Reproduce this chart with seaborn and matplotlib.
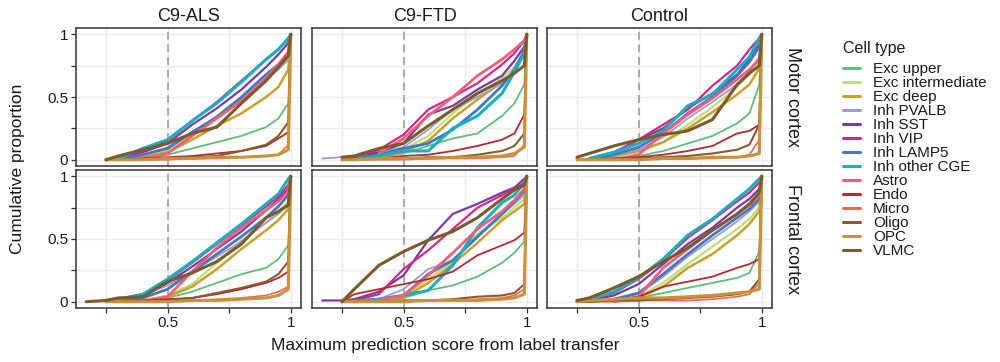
import numpy as np
import pandas as pd
import matplotlib
matplotlib.use("Agg")
import matplotlib.pyplot as plt
import seaborn as sns
from matplotlib.lines import Line2D

nan = np.nan

cell_types = ["Exc upper", "Exc intermediate", "Exc deep", "Inh PVALB", "Inh SST",
              "Inh VIP", "Inh LAMP5", "Inh other CGE", "Astro", "Endo", "Micro",
              "Oligo", "OPC", "VLMC"]
conditions = ["C9-ALS", "C9-FTD", "Control"]
regions = ["Motor cortex", "Frontal cortex"]
score_grid = [0.17, 0.25, 0.3, 0.4, 0.5, 0.6, 0.7, 0.8, 0.9, 0.95, 0.99, 1.0]

als_motor = {
    "Exc upper":        [nan, nan, nan, 0.01, 0.04, 0.09, 0.14, 0.19, 0.26, 0.33, 0.45, 1],
    "Exc intermediate": [nan, nan, 0.0, 0.02, 0.07, 0.20, 0.35, 0.50, 0.64, 0.72, 0.80, 1],
    "Exc deep":         [nan, nan, 0.0, 0.02, 0.06, 0.16, 0.27, 0.37, 0.50, 0.58, 0.72, 1],
    "Inh PVALB":        [nan, nan, 0.0, 0.04, 0.10, 0.22, 0.34, 0.48, 0.64, 0.72, 0.80, 1],
    "Inh SST":          [nan, nan, 0.01, 0.06, 0.13, 0.28, 0.41, 0.56, 0.74, 0.84, 0.93, 1],
    "Inh VIP":          [nan, nan, 0.01, 0.07, 0.15, 0.31, 0.46, 0.63, 0.80, 0.88, 0.96, 1],
    "Inh LAMP5":        [nan, nan, 0.0, 0.04, 0.09, 0.22, 0.34, 0.50, 0.68, 0.76, 0.84, 1],
    "Inh other CGE":    [nan, 0.0, 0.01, 0.09, 0.16, 0.31, 0.45, 0.62, 0.80, 0.88, 0.97, 1],
    "Astro":            [nan, nan, nan, 0.01, 0.05, 0.19, 0.33, 0.47, 0.65, 0.76, 0.86, 1],
    "Endo":             [nan, nan, 0.0, 0.01, 0.02, 0.03, 0.05, 0.07, 0.11, 0.17, 0.22, 1],
    "Micro":            [nan, nan, nan, 0.0, 0.0, 0.01, 0.01, 0.02, 0.03, 0.04, 0.12, 1],
    "Oligo":            [nan, nan, nan, 0.0, 0.01, 0.02, 0.03, 0.07, 0.12, 0.19, 0.30, 1],
    "OPC":              [nan, 0.0, 0.0, 0.0, 0.01, 0.01, 0.02, 0.02, 0.03, 0.04, 0.08, 1],
    "VLMC":             [nan, 0.0, 0.03, 0.08, 0.13, 0.21, 0.26, 0.45, 0.63, 0.74, 0.83, 1],
}

ftd_motor = {
    "Exc upper":        [nan, nan, 0.0, 0.02, 0.05, 0.11, 0.17, 0.21, 0.35, 0.45, 0.60, 1],
    "Exc intermediate": [nan, nan, 0.0, 0.03, 0.08, 0.19, 0.37, 0.52, 0.65, 0.74, 0.85, 1],
    "Exc deep":         [nan, nan, 0.0, 0.02, 0.06, 0.15, 0.33, 0.48, 0.62, 0.70, 0.85, 1],
    "Inh PVALB":        [0.01, 0.02, 0.03, 0.06, 0.10, 0.24, 0.40, 0.50, 0.61, 0.70, 0.85, 1],
    "Inh SST":          [nan, 0.0, 0.01, 0.06, 0.13, 0.36, 0.43, 0.56, 0.67, 0.79, 0.90, 1],
    "Inh VIP":          [nan, 0.0, 0.02, 0.08, 0.20, 0.40, 0.50, 0.61, 0.76, 0.85, 0.95, 1],
    "Inh LAMP5":        [nan, nan, 0.01, 0.04, 0.09, 0.13, 0.24, 0.40, 0.59, 0.72, 0.87, 1],
    "Inh other CGE":    [nan, nan, 0.0, 0.03, 0.07, 0.07, 0.25, 0.35, 0.53, 0.70, 0.85, 1],
    "Astro":            [nan, nan, nan, 0.05, 0.17, 0.35, 0.50, 0.67, 0.80, 0.88, 0.95, 1],
    "Endo":             [nan, nan, 0.0, 0.01, 0.03, 0.04, 0.07, 0.11, 0.16, 0.21, 0.36, 1],
    "Micro":            [nan, nan, 0.0, 0.0, 0.0, 0.01, 0.01, 0.01, 0.02, 0.03, 0.12, 1],
    "Oligo":            [nan, 0.0, 0.0, 0.01, 0.01, 0.02, 0.02, 0.04, 0.07, 0.11, 0.21, 1],
    "OPC":              [nan, 0.0, 0.0, 0.01, 0.01, 0.01, 0.02, 0.02, 0.03, 0.05, 0.10, 1],
    "VLMC":             [nan, 0.02, 0.03, 0.09, 0.13, 0.27, 0.40, 0.53, 0.63, 0.69, 0.75, 1],
}

ctrl_motor = {
    "Exc upper":        [nan, nan, 0.0, 0.01, 0.03, 0.07, 0.13, 0.19, 0.29, 0.37, 0.60, 1],
    "Exc intermediate": [nan, nan, 0.0, 0.02, 0.06, 0.14, 0.28, 0.42, 0.58, 0.68, 0.78, 1],
    "Exc deep":         [nan, nan, 0.0, 0.03, 0.07, 0.14, 0.25, 0.38, 0.52, 0.60, 0.73, 1],
    "Inh PVALB":        [nan, nan, 0.0, 0.03, 0.08, 0.18, 0.33, 0.46, 0.60, 0.70, 0.82, 1],
    "Inh SST":          [nan, nan, 0.0, 0.05, 0.16, 0.25, 0.41, 0.53, 0.68, 0.80, 0.92, 1],
    "Inh VIP":          [nan, nan, 0.01, 0.06, 0.16, 0.28, 0.40, 0.59, 0.75, 0.88, 0.97, 1],
    "Inh LAMP5":        [nan, nan, 0.0, 0.04, 0.10, 0.21, 0.37, 0.50, 0.67, 0.78, 0.90, 1],
    "Inh other CGE":    [nan, nan, 0.01, 0.06, 0.13, 0.23, 0.43, 0.52, 0.72, 0.82, 0.97, 1],
    "Astro":            [nan, nan, nan, 0.0, 0.04, 0.21, 0.36, 0.49, 0.64, 0.72, 0.80, 1],
    "Endo":             [nan, nan, 0.0, 0.01, 0.02, 0.04, 0.07, 0.11, 0.21, 0.23, 0.28, 1],
    "Micro":            [nan, 0.0, 0.0, 0.0, 0.0, 0.01, 0.01, 0.01, 0.02, 0.04, 0.16, 1],
    "Oligo":            [nan, 0.0, 0.0, 0.01, 0.01, 0.02, 0.03, 0.05, 0.08, 0.12, 0.28, 1],
    "OPC":              [nan, 0.0, 0.0, 0.0, 0.0, 0.01, 0.01, 0.02, 0.02, 0.03, 0.05, 1],
    "VLMC":             [nan, 0.02, 0.05, 0.11, 0.16, 0.20, 0.23, 0.32, 0.60, 0.69, 0.75, 1],
}

als_frontal = {
    "Exc upper":        [nan, nan, nan, 0.01, 0.03, 0.08, 0.15, 0.22, 0.27, 0.34, 0.45, 1],
    "Exc intermediate": [nan, nan, nan, 0.01, 0.05, 0.14, 0.31, 0.49, 0.63, 0.72, 0.80, 1],
    "Exc deep":         [nan, nan, nan, 0.01, 0.04, 0.12, 0.26, 0.42, 0.57, 0.65, 0.74, 1],
    "Inh PVALB":        [nan, nan, 0.0, 0.05, 0.13, 0.24, 0.36, 0.48, 0.63, 0.70, 0.78, 1],
    "Inh SST":          [nan, 0.0, 0.01, 0.05, 0.15, 0.28, 0.42, 0.56, 0.73, 0.82, 0.90, 1],
    "Inh VIP":          [nan, 0.0, 0.02, 0.06, 0.17, 0.31, 0.46, 0.61, 0.76, 0.84, 0.93, 1],
    "Inh LAMP5":        [nan, nan, 0.0, 0.03, 0.10, 0.24, 0.38, 0.52, 0.67, 0.76, 0.85, 1],
    "Inh other CGE":    [nan, 0.01, 0.02, 0.06, 0.18, 0.32, 0.47, 0.62, 0.78, 0.86, 0.98, 1],
    "Astro":            [nan, nan, nan, 0.0, 0.04, 0.24, 0.43, 0.59, 0.73, 0.80, 0.88, 1],
    "Endo":             [nan, nan, 0.0, 0.01, 0.02, 0.03, 0.06, 0.10, 0.15, 0.19, 0.24, 1],
    "Micro":            [nan, nan, nan, 0.0, 0.0, 0.01, 0.02, 0.03, 0.05, 0.08, 0.12, 1],
    "Oligo":            [nan, nan, 0.0, 0.0, 0.01, 0.03, 0.07, 0.11, 0.16, 0.22, 0.32, 1],
    "OPC":              [nan, 0.0, 0.0, 0.0, 0.0, 0.01, 0.01, 0.02, 0.03, 0.05, 0.10, 1],
    "VLMC":             [0.0, 0.01, 0.03, 0.04, 0.16, 0.23, 0.32, 0.46, 0.67, 0.72, 0.77, 1],
}

ftd_frontal = {
    "Exc upper":        [nan, nan, nan, 0.01, 0.03, 0.09, 0.13, 0.20, 0.31, 0.39, 0.48, 1],
    "Exc intermediate": [nan, nan, nan, 0.01, 0.04, 0.18, 0.32, 0.54, 0.67, 0.75, 0.82, 1],
    "Exc deep":         [nan, nan, nan, 0.01, 0.03, 0.15, 0.30, 0.47, 0.65, 0.72, 0.78, 1],
    "Inh PVALB":        [nan, nan, 0.0, 0.02, 0.10, 0.26, 0.33, 0.51, 0.70, 0.78, 0.85, 1],
    "Inh SST":          [0.01, 0.01, 0.02, 0.08, 0.21, 0.49, 0.70, 0.78, 0.87, 0.91, 0.98, 1],
    "Inh VIP":          [nan, 0.0, 0.01, 0.06, 0.26, 0.41, 0.58, 0.75, 0.85, 0.90, 0.95, 1],
    "Inh LAMP5":        [nan, 0.0, 0.01, 0.02, 0.05, 0.22, 0.33, 0.52, 0.70, 0.80, 0.88, 1],
    "Inh other CGE":    [nan, nan, 0.0, 0.02, 0.05, 0.09, 0.29, 0.59, 0.79, 0.85, 0.95, 1],
    "Astro":            [nan, nan, nan, 0.01, 0.05, 0.21, 0.39, 0.58, 0.72, 0.81, 0.90, 1],
    "Endo":             [nan, 0.0, 0.06, 0.10, 0.14, 0.18, 0.24, 0.37, 0.45, 0.49, 0.55, 1],
    "Micro":            [nan, nan, 0.0, 0.0, 0.01, 0.01, 0.01, 0.02, 0.03, 0.05, 0.10, 1],
    "Oligo":            [nan, 0.0, 0.0, 0.0, 0.01, 0.01, 0.02, 0.04, 0.05, 0.07, 0.14, 1],
    "OPC":              [nan, 0.0, 0.0, 0.0, 0.0, 0.01, 0.01, 0.01, 0.02, 0.03, 0.06, 1],
    "VLMC":             [nan, 0.0, 0.10, 0.29, 0.40, 0.49, 0.56, 0.67, 0.82, 0.89, 0.93, 1],
}

ctrl_frontal = {
    "Exc upper":        [nan, nan, nan, 0.01, 0.03, 0.07, 0.11, 0.15, 0.19, 0.23, 0.40, 1],
    "Exc intermediate": [nan, nan, nan, 0.01, 0.04, 0.15, 0.30, 0.44, 0.58, 0.66, 0.75, 1],
    "Exc deep":         [nan, nan, nan, 0.01, 0.03, 0.12, 0.27, 0.38, 0.53, 0.62, 0.72, 1],
    "Inh PVALB":        [nan, nan, 0.0, 0.02, 0.06, 0.20, 0.36, 0.50, 0.64, 0.72, 0.80, 1],
    "Inh SST":          [nan, nan, 0.01, 0.05, 0.14, 0.30, 0.46, 0.59, 0.75, 0.82, 0.90, 1],
    "Inh VIP":          [nan, 0.0, 0.02, 0.07, 0.18, 0.33, 0.51, 0.65, 0.80, 0.87, 0.95, 1],
    "Inh LAMP5":        [nan, nan, 0.0, 0.02, 0.07, 0.22, 0.38, 0.53, 0.67, 0.74, 0.82, 1],
    "Inh other CGE":    [nan, 0.0, 0.02, 0.08, 0.19, 0.34, 0.53, 0.66, 0.82, 0.90, 0.98, 1],
    "Astro":            [nan, nan, nan, 0.0, 0.04, 0.27, 0.42, 0.57, 0.70, 0.77, 0.85, 1],
    "Endo":             [nan, nan, nan, 0.01, 0.04, 0.12, 0.16, 0.20, 0.27, 0.30, 0.34, 1],
    "Micro":            [nan, 0.0, 0.0, 0.0, 0.01, 0.01, 0.01, 0.02, 0.04, 0.06, 0.15, 1],
    "Oligo":            [nan, 0.0, 0.0, 0.01, 0.01, 0.02, 0.03, 0.04, 0.06, 0.08, 0.18, 1],
    "OPC":              [nan, 0.0, 0.01, 0.02, 0.03, 0.03, 0.04, 0.05, 0.07, 0.08, 0.10, 1],
    "VLMC":             [nan, 0.01, 0.03, 0.11, 0.20, 0.32, 0.43, 0.57, 0.70, 0.78, 0.87, 1],
}

panels = {
    ("Motor cortex", "C9-ALS"): als_motor,
    ("Motor cortex", "C9-FTD"): ftd_motor,
    ("Motor cortex", "Control"): ctrl_motor,
    ("Frontal cortex", "C9-ALS"): als_frontal,
    ("Frontal cortex", "C9-FTD"): ftd_frontal,
    ("Frontal cortex", "Control"): ctrl_frontal,
}

colors = {
    "Exc upper": "#5BBF75", "Exc intermediate": "#C0DD80", "Exc deep": "#C9A22C",
    "Inh PVALB": "#9D9BD0", "Inh SST": "#7A3BA0", "Inh VIP": "#D2288A",
    "Inh LAMP5": "#4677C4", "Inh other CGE": "#1AAFBF", "Astro": "#F06079",
    "Endo": "#B22A2F", "Micro": "#F0674A", "Oligo": "#8B5A2B", "OPC": "#C8923A",
    "VLMC": "#7D5A2A",
}
widths = {
    "Exc upper": 1.3, "Exc intermediate": 1.6, "Exc deep": 1.8, "Inh PVALB": 1.3,
    "Inh SST": 1.6, "Inh VIP": 1.6, "Inh LAMP5": 2.0, "Inh other CGE": 2.2,
    "Astro": 2.0, "Endo": 1.3, "Micro": 1.2, "Oligo": 1.5, "OPC": 2.2, "VLMC": 2.2,
}

rows = []
for (region, cond), d in panels.items():
    for ct in cell_types:
        for x, y in zip(score_grid, d[ct]):
            if not np.isnan(y):
                rows.append((region, cond, ct, x, y))
df = pd.DataFrame(rows, columns=["region", "condition", "Cell type", "score", "cum"])

sns.set_theme(style="white")
plt.rcParams["font.family"] = ["Liberation Sans", "DejaVu Sans"]

fig = plt.figure(figsize=(10, 3.62), dpi=100)
lefts = [0.076, 0.312, 0.547]
pw = 0.225
bottoms = [0.5414, 0.1492]
ph = 0.3812
edge = "#333333"
txt = "#1a1a1a"

for r, region in enumerate(regions):
    for c, cond in enumerate(conditions):
        ax = fig.add_axes([lefts[c], bottoms[r], pw, ph])
        sub = df[(df["region"] == region) & (df["condition"] == cond)]
        ax.axvline(0.5, color="#AAAAAA", lw=1.4, ls=(0, (4, 2.5)), zorder=1.5)
        sns.lineplot(data=sub, x="score", y="cum", hue="Cell type", hue_order=cell_types,
                     palette=colors, size="Cell type", size_order=cell_types, sizes=widths,
                     estimator=None, sort=False, legend=False, ax=ax)
        ax.set_xlim(0.1285, 1.0415)
        ax.set_ylim(-0.05, 1.05)
        ax.set_xticks([0.25, 0.5, 0.75, 1.0])
        ax.set_yticks([0, 0.25, 0.5, 0.75, 1.0])
        ax.set_axisbelow(True)
        ax.grid(True, color="#EBEBEB", lw=1.0)
        ax.set_xlabel("")
        ax.set_ylabel("")
        for s in ax.spines.values():
            s.set_color(edge)
            s.set_linewidth(1.1)
        ax.tick_params(axis="both", length=3.5, width=0.9, color=edge,
                       labelsize=11, labelcolor=txt, pad=2)
        if r == 1:
            ax.set_xticklabels(["", "0.5", "", "1"])
            ax.tick_params(axis="x", bottom=True)
        else:
            ax.tick_params(axis="x", bottom=False, labelbottom=False)
        if c == 0:
            ax.set_yticklabels(["0", "", "0.5", "", "1"])
            ax.tick_params(axis="y", left=True)
        else:
            ax.tick_params(axis="y", left=False, labelleft=False)
        if r == 0:
            ax.set_title(cond, fontsize=13, color=txt, pad=5)
        if c == 2:
            ax.text(1.09, 0.5, region, transform=ax.transAxes, rotation=-90,
                    ha="center", va="center", fontsize=13, color=txt)

fig.text(0.445, 0.045, "Maximum prediction score from label transfer",
         ha="center", va="center", fontsize=12.5, color=txt)
fig.text(0.018, 0.535, "Cumulative proportion", rotation=90,
         ha="center", va="center", fontsize=12.5, color=txt)

fig.text(0.843, 0.867, "Cell type", ha="left", va="center", fontsize=11.5, color=txt)
handles = [Line2D([0], [0], color=colors[ct], lw=2.2) for ct in cell_types]
leg = fig.legend(handles, cell_types, loc="upper left",
                 bbox_to_anchor=(0.843, 0.828), frameon=False, fontsize=11,
                 handlelength=1.1, handletextpad=0.85, labelspacing=0.0,
                 borderaxespad=0, borderpad=0, handleheight=0.5)
for t in leg.get_texts():
    t.set_color(txt)

fig.savefig("out.png", dpi=100)
